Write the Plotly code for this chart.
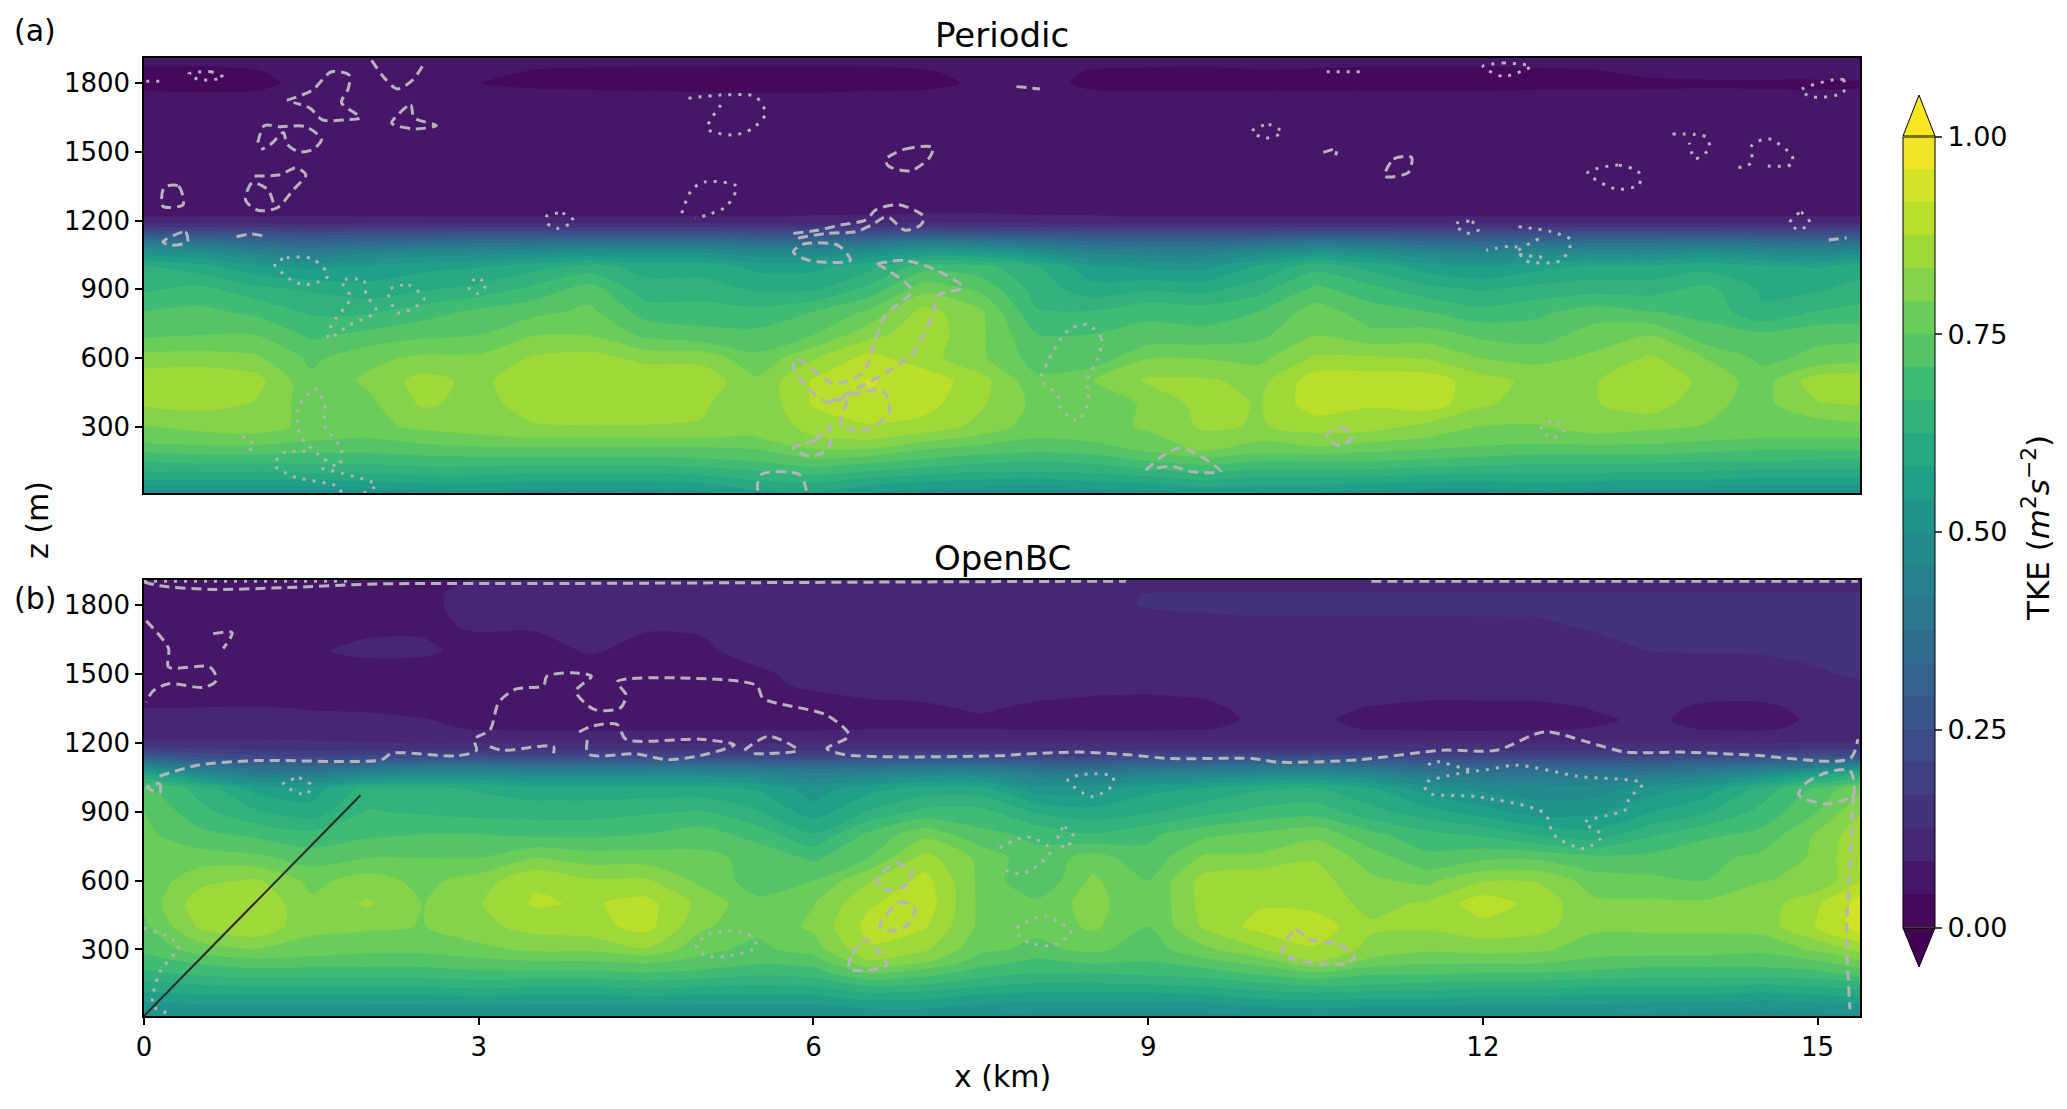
import plotly.graph_objects as go

W, H = 2067, 1109

x_km = [0, .5, 1, 1.5, 2, 2.5, 3, 3.5, 4, 4.5, 5, 5.5, 6, 6.5, 7, 7.5,
        8, 8.5, 9, 9.5, 10, 10.5, 11, 11.5, 12, 12.5, 13, 13.5, 14, 14.5, 15, 15.5]

z_periodic = [10, 50, 100, 150, 200, 250, 300, 400, 500, 600, 700, 800, 900, 1000, 1060,
              1100, 1140, 1180, 1200, 1220, 1300, 1700, 1760, 1800, 1850, 1910]

tke_periodic = [
    [.50,.50,.50,.50,.51,.52,.53,.52,.51,.52,.53,.57,.58,.54,.52,.51,.50,.52,.53,.55,.54,.54,.53,.52,.52,.53,.52,.51,.51,.50,.50,.50],
    [.56,.56,.56,.56,.57,.58,.58,.57,.57,.57,.58,.61,.62,.59,.57,.56,.55,.57,.58,.60,.59,.59,.58,.57,.57,.58,.57,.56,.56,.55,.55,.55],
    [.62,.62,.62,.63,.63,.64,.64,.63,.63,.63,.64,.66,.68,.66,.64,.62,.62,.63,.65,.67,.65,.65,.65,.64,.63,.63,.63,.62,.62,.61,.61,.61],
    [.67,.68,.68,.68,.68,.69,.69,.69,.69,.69,.70,.71,.74,.72,.70,.68,.67,.68,.71,.73,.71,.71,.71,.70,.69,.68,.68,.68,.67,.67,.66,.66],
    [.72,.73,.73,.72,.72,.73,.74,.74,.74,.74,.74,.75,.79,.79,.75,.73,.72,.73,.76,.80,.77,.78,.76,.75,.74,.73,.73,.73,.72,.71,.71,.71],
    [.77,.78,.78,.76,.75,.77,.78,.79,.79,.79,.79,.79,.83,.84,.81,.78,.75,.76,.78,.82,.80,.82,.81,.79,.77,.77,.78,.77,.76,.75,.75,.75],
    [.79,.80,.81,.78,.78,.80,.82,.83,.83,.83,.83,.80,.85,.87,.86,.82,.77,.77,.80,.84,.83,.85,.85,.82,.79,.79,.81,.80,.79,.78,.77,.78],
    [.84,.85,.83,.77,.78,.84,.82,.85,.87,.87,.84,.80,.88,.91,.89,.84,.78,.76,.80,.85,.83,.90,.88,.90,.84,.81,.83,.86,.80,.78,.83,.84],
    [.86,.87,.85,.76,.80,.85,.82,.87,.87,.87,.86,.80,.88,.92,.90,.85,.76,.79,.84,.84,.82,.90,.90,.90,.85,.82,.83,.87,.82,.77,.86,.87],
    [.81,.81,.80,.74,.78,.80,.80,.84,.85,.82,.82,.76,.83,.89,.85,.80,.73,.72,.79,.79,.78,.84,.84,.83,.79,.78,.80,.84,.79,.74,.76,.77],
    [.74,.75,.75,.70,.72,.74,.75,.79,.79,.74,.72,.72,.75,.82,.86,.80,.71,.71,.72,.72,.74,.79,.76,.77,.74,.73,.77,.79,.72,.72,.74,.74],
    [.71,.72,.70,.66,.66,.69,.72,.74,.76,.69,.69,.68,.71,.76,.85,.80,.67,.67,.70,.69,.71,.77,.73,.71,.68,.70,.73,.71,.70,.63,.67,.68],
    [.66,.68,.64,.62,.60,.62,.64,.68,.73,.64,.64,.62,.62,.68,.78,.74,.65,.60,.62,.61,.65,.72,.68,.64,.62,.64,.65,.65,.68,.62,.62,.65],
    [.63,.60,.55,.53,.55,.57,.58,.61,.64,.61,.61,.57,.57,.61,.69,.68,.63,.55,.53,.53,.59,.65,.61,.56,.54,.57,.59,.59,.61,.59,.58,.61],
    [.52,.50,.45,.42,.45,.47,.48,.49,.51,.50,.50,.47,.47,.50,.55,.54,.50,.45,.44,.44,.48,.52,.50,.46,.45,.47,.48,.48,.50,.48,.47,.50],
    [.42,.40,.36,.33,.35,.37,.38,.38,.40,.40,.40,.37,.37,.40,.44,.42,.40,.36,.35,.35,.38,.41,.40,.36,.35,.37,.38,.38,.40,.38,.37,.40],
    [.27,.26,.25,.24,.25,.25,.26,.26,.26,.26,.26,.25,.25,.26,.27,.27,.26,.25,.25,.25,.25,.26,.26,.25,.25,.25,.26,.26,.26,.25,.25,.26],
    [.14,.14,.14,.13,.14,.14,.14,.14,.14,.14,.14,.14,.14,.14,.15,.14,.14,.14,.14,.14,.14,.14,.14,.14,.14,.14,.14,.14,.14,.14,.14,.14],
    [.105,.105,.105,.105,.105,.105,.105,.105,.105,.105,.105,.105,.105,.105,.11,.11,.105,.105,.105,.105,.105,.105,.105,.105,.105,.105,.105,.105,.105,.105,.105,.105],
    [.082,.082,.082,.082,.082,.082,.082,.082,.08,.082,.082,.082,.084,.084,.086,.086,.084,.084,.082,.082,.082,.082,.082,.082,.082,.082,.082,.082,.082,.082,.082,.082],
    [.07,.07,.07,.07,.07,.07,.07,.07,.07,.07,.07,.07,.07,.07,.07,.07,.07,.07,.07,.07,.07,.07,.07,.07,.07,.07,.07,.07,.07,.07,.07,.07],
    [.055,.055,.055,.055,.055,.055,.055,.055,.055,.055,.055,.055,.055,.055,.055,.055,.055,.055,.055,.055,.055,.055,.055,.055,.055,.055,.055,.055,.055,.055,.055,.055],
    [.043,.042,.043,.05,.05,.05,.048,.045,.044,.043,.042,.041,.041,.043,.044,.046,.05,.044,.043,.043,.043,.043,.043,.043,.043,.044,.044,.044,.045,.044,.043,.043],
    [.035,.033,.035,.05,.05,.05,.042,.037,.036,.035,.034,.034,.035,.035,.036,.045,.05,.036,.034,.034,.034,.035,.034,.034,.035,.036,.036,.037,.038,.038,.038,.04],
    [.037,.036,.04,.05,.05,.05,.048,.04,.038,.037,.037,.036,.036,.037,.04,.047,.05,.04,.038,.037,.04,.039,.037,.037,.037,.039,.04,.047,.05,.05,.05,.05],
    [.05,.05,.05,.05,.05,.05,.05,.05,.05,.05,.05,.05,.05,.05,.05,.05,.05,.05,.05,.05,.05,.05,.05,.05,.05,.05,.05,.05,.05,.05,.05,.05],
]

z_openbc = [10, 50, 100, 150, 200, 250, 300, 400, 500, 600, 700, 800, 900, 1000, 1060,
            1100, 1140, 1180, 1220, 1260, 1300, 1350, 1400, 1450, 1500, 1600, 1700, 1760, 1800, 1850, 1910]

tke_openbc = [
    [.50,.50,.50,.50,.50,.50,.50,.50,.50,.50,.50,.50,.50,.51,.51,.50,.49,.49,.49,.49,.50,.51,.51,.51,.50,.50,.50,.49,.49,.48,.49,.50],
    [.52,.53,.53,.53,.53,.53,.53,.53,.53,.53,.53,.53,.53,.55,.55,.53,.52,.52,.52,.52,.54,.55,.54,.54,.53,.53,.53,.52,.52,.51,.52,.53],
    [.57,.58,.58,.58,.58,.58,.59,.58,.58,.59,.58,.58,.58,.61,.60,.58,.57,.57,.57,.58,.60,.61,.60,.60,.59,.59,.58,.58,.58,.57,.58,.60],
    [.61,.63,.64,.64,.64,.64,.65,.64,.64,.65,.64,.63,.64,.68,.67,.64,.62,.62,.63,.64,.66,.68,.67,.66,.65,.65,.64,.64,.64,.63,.64,.66],
    [.66,.68,.69,.69,.69,.69,.70,.70,.70,.71,.70,.68,.69,.76,.73,.69,.67,.67,.68,.69,.72,.75,.72,.72,.71,.71,.70,.69,.69,.69,.70,.74],
    [.69,.72,.74,.73,.73,.73,.74,.75,.75,.76,.74,.72,.73,.83,.80,.73,.70,.72,.71,.74,.77,.84,.78,.76,.76,.76,.74,.73,.73,.73,.75,.80],
    [.72,.77,.79,.78,.76,.76,.78,.80,.80,.83,.76,.74,.77,.87,.84,.76,.74,.76,.73,.78,.83,.87,.82,.80,.81,.80,.77,.77,.77,.76,.80,.86],
    [.74,.84,.87,.80,.80,.79,.82,.85,.86,.89,.80,.76,.80,.89,.88,.78,.76,.80,.75,.84,.89,.90,.84,.84,.86,.85,.80,.80,.80,.81,.88,.95],
    [.76,.86,.87,.80,.84,.79,.83,.88,.87,.89,.82,.76,.79,.87,.90,.78,.76,.81,.75,.85,.87,.86,.82,.84,.90,.86,.80,.80,.80,.81,.87,.95],
    [.76,.82,.84,.78,.81,.78,.81,.87,.84,.84,.78,.73,.75,.83,.89,.78,.71,.80,.75,.85,.87,.85,.80,.78,.83,.83,.77,.76,.75,.79,.80,.90],
    [.79,.77,.76,.73,.75,.75,.75,.79,.77,.77,.76,.74,.70,.75,.85,.78,.72,.77,.72,.80,.80,.83,.77,.72,.74,.74,.72,.72,.74,.76,.80,.90],
    [.76,.72,.70,.68,.70,.71,.71,.70,.70,.71,.73,.69,.63,.72,.78,.72,.70,.67,.70,.74,.76,.78,.72,.68,.66,.62,.60,.66,.70,.72,.80,.88],
    [.75,.68,.63,.60,.67,.66,.65,.65,.65,.66,.67,.63,.56,.63,.68,.68,.62,.60,.62,.65,.68,.69,.64,.60,.56,.52,.53,.58,.62,.68,.75,.85],
    [.72,.65,.57,.56,.64,.64,.62,.60,.60,.60,.60,.58,.52,.57,.60,.60,.52,.52,.57,.59,.62,.63,.59,.52,.49,.48,.48,.52,.56,.64,.72,.80],
    [.60,.50,.44,.43,.47,.50,.50,.49,.49,.49,.49,.47,.44,.46,.49,.49,.44,.43,.46,.47,.49,.50,.47,.42,.40,.40,.40,.42,.45,.50,.58,.65],
    [.46,.38,.34,.33,.36,.38,.38,.37,.37,.37,.37,.36,.34,.35,.37,.37,.34,.33,.35,.36,.38,.38,.36,.33,.32,.32,.32,.33,.35,.38,.42,.48],
    [.30,.24,.22,.21,.22,.23,.23,.22,.22,.22,.22,.22,.21,.22,.23,.23,.21,.21,.22,.22,.23,.23,.22,.21,.21,.21,.21,.21,.22,.23,.25,.26],
    [.17,.16,.15,.14,.14,.14,.14,.14,.14,.14,.14,.14,.14,.14,.14,.14,.14,.14,.14,.14,.14,.14,.14,.14,.14,.14,.14,.14,.14,.14,.15,.15],
    [.12,.12,.12,.12,.115,.105,.105,.105,.105,.105,.105,.105,.105,.105,.105,.105,.105,.105,.105,.105,.105,.105,.105,.105,.105,.105,.105,.105,.105,.105,.11,.11],
    [.095,.095,.095,.095,.095,.088,.082,.08,.08,.08,.08,.08,.08,.083,.083,.083,.082,.08,.08,.082,.09,.09,.082,.08,.078,.08,.085,.09,.082,.08,.09,.09],
    [.092,.092,.092,.09,.09,.085,.075,.07,.07,.07,.07,.07,.07,.07,.075,.075,.072,.07,.07,.072,.09,.09,.072,.07,.068,.07,.078,.09,.072,.07,.09,.09],
    [.084,.085,.086,.082,.08,.075,.07,.065,.065,.065,.065,.065,.068,.07,.075,.09,.072,.07,.07,.074,.095,.095,.08,.07,.07,.072,.085,.095,.075,.074,.095,.095],
    [.07,.07,.07,.07,.07,.07,.065,.065,.065,.065,.065,.07,.075,.086,.09,.095,.09,.082,.08,.085,.095,.095,.095,.09,.09,.09,.095,.10,.09,.09,.10,.10],
    [.07,.07,.07,.07,.07,.07,.065,.065,.065,.065,.07,.075,.09,.09,.095,.095,.095,.095,.095,.095,.10,.10,.10,.095,.095,.095,.095,.10,.10,.10,.115,.12],
    [.068,.068,.068,.068,.068,.068,.065,.065,.065,.068,.07,.08,.09,.095,.10,.10,.10,.10,.10,.10,.10,.10,.10,.10,.10,.10,.10,.10,.10,.11,.12,.135],
    [.07,.07,.07,.08,.09,.088,.075,.072,.086,.075,.08,.09,.10,.10,.10,.10,.10,.10,.10,.10,.10,.10,.10,.10,.105,.105,.11,.125,.128,.128,.135,.14],
    [.07,.07,.07,.07,.078,.08,.085,.085,.085,.085,.085,.095,.10,.10,.10,.10,.10,.10,.10,.105,.11,.11,.11,.115,.115,.118,.128,.135,.135,.135,.14,.14],
    [.07,.07,.07,.07,.07,.07,.10,.10,.10,.10,.10,.10,.10,.10,.10,.10,.10,.10,.115,.124,.127,.127,.127,.126,.127,.127,.132,.135,.135,.135,.14,.14],
    [.07,.07,.07,.07,.07,.07,.105,.105,.105,.105,.105,.105,.105,.105,.105,.105,.105,.105,.13,.13,.13,.13,.13,.13,.13,.13,.135,.135,.135,.135,.14,.14],
    [.07,.07,.07,.07,.07,.07,.105,.105,.105,.105,.105,.105,.105,.105,.105,.105,.105,.105,.128,.128,.128,.128,.128,.128,.128,.128,.128,.128,.128,.128,.128,.128],
    [.05,.05,.05,.05,.05,.05,.09,.09,.09,.09,.09,.09,.09,.09,.09,.09,.09,.09,.09,.095,.095,.095,.095,.095,.095,.095,.095,.095,.095,.095,.095,.095],
]

levels_start, levels_end, levels_size = 0, 1, 1 / 24
cbar_ticks = [0, .25, .5, .75, 1]
cbar_ticktext = ["0.00", "0.25", "0.50", "0.75", "1.00"]
x_ticks = [0, 3, 6, 9, 12, 15]
z_ticks = [300, 600, 900, 1200, 1500, 1800]

periodic_dash = [
    [(1.28,1725),(1.51,1770),(1.68,1850),(1.84,1835),(1.83,1775),(1.77,1715),(1.94,1650),(1.80,1640),(1.60,1640),(1.49,1690),(1.34,1715)],
    [(2.04,1900),(2.16,1820),(2.27,1775),(2.41,1815),(2.52,1895)],
    [(2.25,1650),(2.39,1705),(2.42,1650),(2.62,1615),(2.42,1600),(2.22,1625),(2.25,1650)],
    [(1.02,1540),(1.08,1615),(1.22,1610),(1.45,1610),(1.59,1555),(1.51,1510),(1.39,1500),(1.28,1535),(1.25,1585),(1.14,1535),(1.05,1510)],
    [(.99,1395),(1.22,1400),(1.36,1430),(1.45,1400),(1.34,1335),(1.19,1255),(1.02,1245),(.91,1290),(.97,1365),(1.11,1335),(1.16,1275)],
    [(.18,1345),(.31,1350),(.35,1270),(.17,1262),(.18,1345)],
    [(.17,1107),(.37,1150),(.39,1108),(.25,1092),(.17,1107)],
    [(.83,1129),(.96,1141),(1.11,1129)],
    [(5.82,1144),(6.04,1158),(6.24,1180),(6.47,1203),(6.56,1247),(6.76,1269),(6.99,1217),(6.96,1180),(6.82,1158),(6.66,1217),(6.52,1180),(6.38,1151),(6.12,1144),(5.84,1122)],
    [(5.82,1062),(5.9,1096),(6.22,1092),(6.33,1026),(5.96,1026),(5.82,1062)],
    [(6.65,1468),(6.82,1512),(7.07,1520),(7.04,1475),(6.87,1417),(6.67,1439),(6.65,1468)],
    [(6.57,1011),(6.82,1026),(7.11,981),(7.34,908),(7.11,871),(7.08,804),(6.97,686),(6.88,613),(6.71,554),(6.42,473),(6.14,406)],
    [(6.57,1011),(6.88,893),(6.65,790),(6.54,657),(6.45,539),(6.19,487),(6.02,539),(5.85,598),(5.82,561),(5.99,450),(6.14,406),(6.37,443),(6.62,458),(6.68,362),(6.48,288),(6.25,303),(6.31,421)],
    [(6.14,303),(6.02,244),(5.82,207),(5.97,170),(6.14,207),(6.14,303)],
    [(5.5,20),(5.5,52),(5.54,93),(5.88,89),(5.94,10)],
    [(11.12,1394),(11.2,1468),(11.36,1476),(11.33,1409),(11.12,1394)],
    [(10.6,259),(10.72,296),(10.83,259),(10.72,215),(10.6,259)],
    [(8.98,108),(9.1,163),(9.29,207),(9.47,170),(9.65,104),(9.38,104),(9.22,126),(9.07,119)],
    [(10.57,1498),(10.69,1512),(10.68,1485)],
    [(7.82,1785),(8.03,1775)],
    [(15.1,1115),(15.26,1125)],
]

periodic_dot = [
    [(.02,1808),(.2,1808)],
    [(.4,1840),(.6,1850),(.71,1825),(.5,1815),(.4,1840)],
    [(4.88,1734),(5.17,1748),(5.48,1741),(5.57,1667),(5.45,1601),(5.28,1574),(5.05,1601),(5.17,1704)],
    [(4.82,1232),(4.91,1335),(5.03,1369),(5.31,1350),(5.22,1262),(5.05,1225),(4.94,1210)],
    [(3.61,1220),(3.75,1232),(3.85,1200),(3.7,1165),(3.61,1190),(3.61,1220)],
    [(1.17,1011),(1.28,1037),(1.51,1033),(1.65,959),(1.45,919),(1.31,944),(1.17,1011)],
    [(1.77,937),(1.97,937),(1.99,878),(2.08,804),(1.85,746),(1.65,686),(1.68,745),(1.85,863),(1.77,937)],
    [(2.19,893),(2.37,919),(2.51,856),(2.28,797),(2.19,893)],
    [(2.99,952),(3.06,915),(2.99,881),(2.91,908),(2.99,952)],
    [(1.54,465),(1.62,391),(1.62,303),(1.77,200),(1.74,126),(1.51,200),(1.39,274),(1.39,391),(1.54,465)],
    [(1.45,192),(1.25,185),(1.17,133),(1.34,82),(1.74,38),(1.77,10)],
    [(1.59,118),(2.08,45),(1.97,10)],
    [(.88,259),(.99,215),(.88,185)],
    [(12.0,1874),(12.18,1888),(12.43,1874),(12.18,1830),(12.0,1874)],
    [(10.6,1850),(10.9,1850)],
    [(14.85,1770),(15.23,1815),(15.23,1760),(14.95,1740),(14.85,1770)],
    [(9.93,1590),(10.08,1620),(10.2,1585),(10.05,1560),(9.93,1590)],
    [(13.7,1578),(14.0,1565),(14.03,1515),(13.9,1470),(13.85,1540)],
    [(14.29,1431),(14.41,1453),(14.41,1527),(14.56,1557),(14.77,1483),(14.77,1446),(14.5,1439)],
    [(12.94,1409),(13.22,1442),(13.4,1409),(13.4,1357),(13.19,1338),(12.94,1409)],
    [(14.75,1190),(14.85,1235),(14.93,1190),(14.83,1160),(14.75,1190)],
    [(11.75,1185),(11.9,1195),(11.96,1160),(11.85,1145),(11.75,1185)],
    [(12.32,1173),(12.61,1151),(12.79,1114),(12.7,1026),(12.37,1026),(12.3,1084),(12.03,1070)],
    [(12.5,1120),(12.3,1060),(12.55,1040)],
    [(8.46,745),(8.58,686),(8.55,598),(8.46,509),(8.46,406),(8.37,325),(8.22,377),(8.19,436),(8.04,509),(8.1,583),(8.22,686),(8.31,730),(8.46,745)],
    [(12.62,325),(12.73,288),(12.62,251),(12.52,288),(12.62,325)],
]

openbc_dash = [
    [(0,1902),(.14,1885),(.6,1869),(1.28,1877),(2.13,1893),(3.84,1895),(7.64,1903),(8.8,1905)],
    [(11,1905),(15.36,1905)],
    [(.02,1732),(.22,1611),(.22,1531),(.59,1531),(.65,1474),(.54,1442),(.22,1458),(.08,1426),(.02,1377)],
    [(.62,1676),(.79,1681),(.71,1611)],
    [(.14,1055),(.48,1103),(.99,1123),(2.13,1127),(2.22,1155),(2.81,1144),(2.98,1168),(2.96,1216),(3.1,1256),(3.18,1377),(3.33,1434),(3.58,1450),
     (3.61,1490),(3.84,1506),(4.01,1490),(3.87,1426),(4.04,1345),(4.27,1353),(4.32,1410),(4.24,1466),(4.89,1482),(5.49,1450),(5.55,1394),(6.12,1321),
     (6.32,1232),(6.12,1176),(6.29,1148),(7.64,1144),(7.91,1152),(8.4,1160),(8.83,1148),(9.19,1132),(9.93,1132),(10.17,1116),(10.9,1127),(11.63,1168),
     (12.12,1168),(12.55,1248),(12.91,1208),(13.28,1160),(13.77,1160),(14.38,1148),(15.29,1132),(15.36,1216)],
    [(3.1,1184),(3.21,1168),(3.67,1184),(3.67,1155)],
    [(3.9,1248),(4.01,1272),(4.24,1281),(4.32,1216),(4.98,1216),(5.29,1192),(4.98,1144),(4.69,1127),(4.41,1152),(3.98,1152),(3.98,1232)],
    [(5.38,1168),(5.6,1229),(5.86,1168),(5.41,1152)],
    [(.03,1006),(.14,1022),(.14,982),(.03,1006)],
    [(14.83,974),(14.89,1022),(15.08,1071),(15.29,1079),(15.32,974),(15.08,934),(14.83,974)],
    [(15.32,974),(15.29,684),(15.26,361),(15.29,39)],
    [(6.57,610),(6.74,676),(6.88,643),(6.85,587),(6.7,558),(6.59,571),(6.57,610)],
    [(6.6,410),(6.77,506),(6.91,482),(6.85,410),(6.71,381),(6.6,394),(6.6,410)],
    [(6.32,216),(6.35,281),(6.46,345),(6.57,297),(6.66,232),(6.46,208),(6.32,216)],
    [(10.2,281),(10.32,385),(10.44,345),(10.72,321),(10.85,264),(10.75,235),(10.2,281)],
]

openbc_dot = [
    [(0,1905),(1.85,1905)],
    [(1.25,1023),(1.39,1047),(1.5,1015),(1.45,975),(1.28,1007),(1.25,1023)],
    [(4.95,313),(5.06,369),(5.4,369),(5.49,313),(5.26,273),(5.03,273),(4.95,313)],
    [(0,394),(.31,321),(.14,200),(.08,55),(.22,22)],
    [(8.28,1039),(8.43,1063),(8.68,1055),(8.68,1015),(8.49,966),(8.28,1039)],
    [(8.19,800),(8.25,832),(8.33,792),(8.25,740),(8.19,800)],
    [(7.67,743),(7.91,790),(8.13,735),(8,662),(7.85,630),(7.67,654)],
    [(7.82,389),(8.07,445),(8.31,373),(8.13,317),(7.88,341),(7.82,389)],
    [(11.51,1103),(11.57,1119),(11.94,1079),(12.3,1103),(12.85,1055),(13.43,1023),(13.31,958),(13.28,910),(12.91,853),(13.07,797),(12.91,740),(12.64,797),(12.55,894),(11.94,966),(11.51,982),(11.48,1023),(11.94,1079)],
]

wedge_x = [0, 1.94]
wedge_z = [10, 972]

GREY = "#b7b3ba"


def unzip_loops(loops):
    xs, zs = [], []
    for loop in loops:
        xs += [p[0] for p in loop] + [None]
        zs += [p[1] for p in loop] + [None]
    return xs, zs


def px_x(px):
    return px / W


def px_y(py):
    return 1 - py / H


fig = go.Figure()

contour_style = dict(
    zmin=0, zmax=1, colorscale="Viridis",
    contours=dict(start=levels_start, end=levels_end, size=levels_size, coloring="fill", showlines=False),
    line=dict(width=0, smoothing=0.7),
    hoverinfo="skip",
)

fig.add_trace(go.Contour(
    x=x_km, y=z_periodic, z=tke_periodic, xaxis="x", yaxis="y",
    colorbar=dict(
        x=px_x(1903), xanchor="left", xpad=0, y=px_y(532), yanchor="middle", ypad=0,
        thickness=32, thicknessmode="pixels", len=791, lenmode="pixels",
        tickvals=cbar_ticks, ticktext=cbar_ticktext, ticks="outside", ticklen=7, tickwidth=1.5,
        tickfont=dict(size=27, family="DejaVu Sans", color="black"),
        outlinewidth=1, outlinecolor="black",
    ),
    **contour_style,
))
fig.add_trace(go.Contour(x=x_km, y=z_openbc, z=tke_openbc, xaxis="x2", yaxis="y2", showscale=False, **contour_style))

line_sets = [
    (periodic_dash, "10px,6px", "x", "y"),
    (periodic_dot, "3px,7px", "x", "y"),
    (openbc_dash, "10px,6px", "x2", "y2"),
    (openbc_dot, "3px,7px", "x2", "y2"),
]
for loops, dash, xa, ya in line_sets:
    xs, zs = unzip_loops(loops)
    fig.add_trace(go.Scatter(x=xs, y=zs, mode="lines", xaxis=xa, yaxis=ya, hoverinfo="skip",
                             line=dict(color=GREY, width=3, dash=dash, shape="spline", smoothing=0.8)))

fig.add_trace(go.Scatter(x=wedge_x, y=wedge_z, mode="lines", xaxis="x2", yaxis="y2", hoverinfo="skip",
                         line=dict(color="#2a2a2a", width=2)))

axis_style = dict(
    showline=True, linecolor="black", linewidth=1.5, mirror=True, showgrid=False, zeroline=False,
    ticks="outside", ticklen=7, tickwidth=1.5, tickcolor="black",
    tickfont=dict(size=26, family="DejaVu Sans", color="black"),
)

# triangles for the extended colorbar ends
triangles = [
    ("#f8e621", 136, 95),
    ("#440154", 928, 967),
]
shapes = []
for colour, base, tip in triangles:
    path = (f"M {px_x(1903)},{px_y(base)} L {px_x(1935)},{px_y(base)} "
            f"L {px_x(1919)},{px_y(tip)} Z")
    shapes.append(dict(type="path", xref="paper", yref="paper", path=path, fillcolor=colour,
                       line=dict(color="black", width=1)))

annotations = [
    dict(text="Periodic", x=px_x(1002), y=px_y(35), font=dict(size=34)),
    dict(text="OpenBC", x=px_x(1002), y=px_y(558), font=dict(size=34)),
    dict(text="(a)", x=px_x(35), y=px_y(30), font=dict(size=30)),
    dict(text="(b)", x=px_x(35), y=px_y(598), font=dict(size=30)),
    dict(text="z (m)", x=px_x(37), y=px_y(520), font=dict(size=30), textangle=-90),
    dict(text="x (km)", x=px_x(1002), y=px_y(1076), font=dict(size=30)),
    dict(text="TKE (<i>m</i><sup>2</sup><i>s</i><sup>−2</sup>)", x=px_x(2036), y=px_y(528), font=dict(size=31), textangle=-90),
]
for a in annotations:
    a.update(xref="paper", yref="paper", showarrow=False, xanchor="center", yanchor="middle")
    a["font"].update(family="DejaVu Sans", color="black")

fig.update_layout(
    width=W, height=H, autosize=False, showlegend=False,
    margin=dict(l=0, r=0, t=0, b=0, autoexpand=False),
    paper_bgcolor="white", plot_bgcolor="white",
    xaxis=dict(domain=[px_x(144), px_x(1860)], range=[0, 15.38], anchor="y", showticklabels=False, ticks="", **{k: v for k, v in axis_style.items() if k != "ticks"}),
    yaxis=dict(domain=[px_y(493), px_y(58)], range=[10, 1910], anchor="x", tickvals=z_ticks, **axis_style),
    xaxis2=dict(domain=[px_x(144), px_x(1860)], range=[0, 15.38], anchor="y2", tickvals=x_ticks, **axis_style),
    yaxis2=dict(domain=[px_y(1016), px_y(580)], range=[10, 1910], anchor="x2", tickvals=z_ticks, **axis_style),
    shapes=shapes,
    annotations=annotations,
)

fig.write_html("out.html", config={"displayModeBar": False}, post_script="document.body.style.margin='0';")
